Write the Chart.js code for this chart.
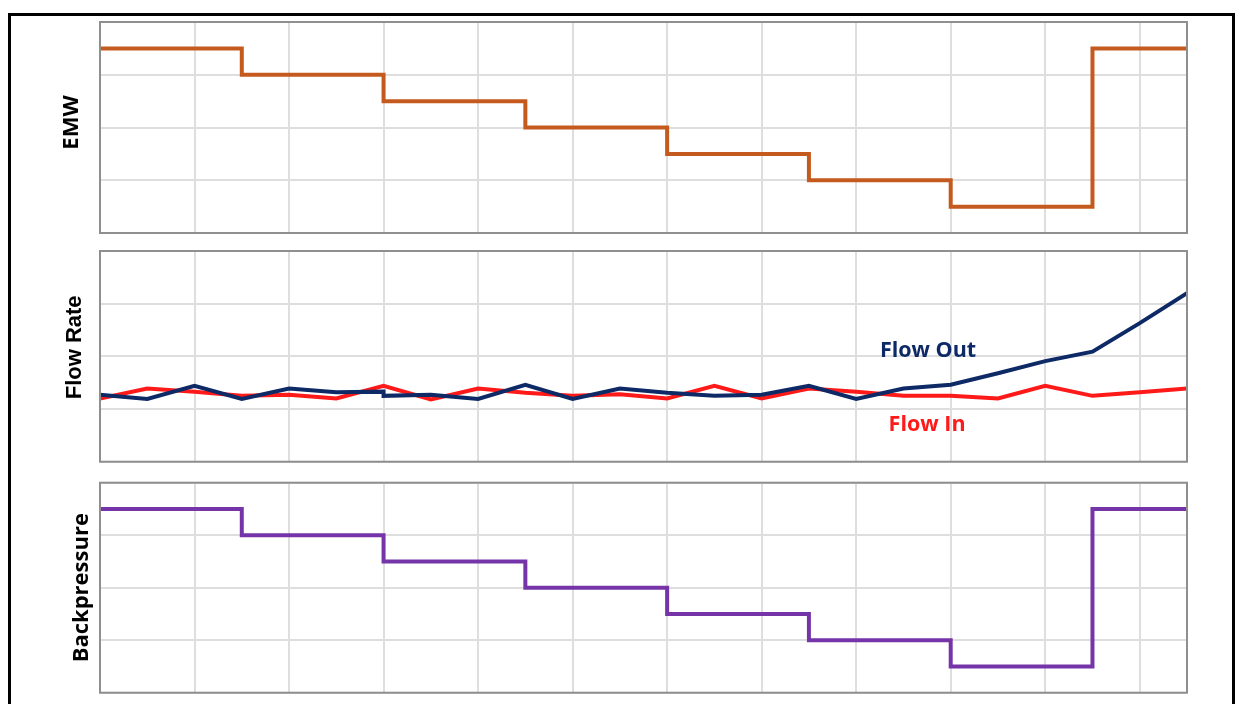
<!DOCTYPE html>
<html>
<head>
<meta charset="utf-8">
<script src="https://cdn.jsdelivr.net/npm/chart.js@4/dist/chart.umd.min.js"></script>
<style>
  html, body { margin: 0; padding: 0; background: #fff; }
  body { width: 1239px; height: 704px; position: relative; overflow: hidden; }
  .frame { position: absolute; left: 8px; top: 13px; width: 1227px; height: 720px;
           border: 3px solid #000; border-bottom: none; box-sizing: border-box; }
  canvas { position: absolute; left: 0; }
</style>
</head>
<body>
<div class="frame"></div>
<canvas id="emw" width="1239" height="240" style="top:0"></canvas>
<canvas id="flow" width="1239" height="230" style="top:240px"></canvas>
<canvas id="bp" width="1239" height="234" style="top:470px"></canvas>
<script>
// Time axis (shared by all three panels)
const timeMin = 0;
const timeMax = 11.5;

// Step changes in equivalent mud weight and surface backpressure
const stepTimes = [0, 1.5, 3, 4.5, 6, 7.5, 9, 10.5, 11.5];
const emwLevels = [3.5, 3.0, 2.5, 2.0, 1.5, 1.0, 0.5, 3.5, 3.5];
const backpressureLevels = [3.5, 3.0, 2.5, 2.0, 1.5, 1.0, 0.5, 3.5, 3.5];

// Flow readings
const flowTimes = [0, 0.5, 1, 1.5, 2, 2.5, 3, 3.5, 4, 4.5, 5, 5.5,
                   6, 6.5, 7, 7.5, 8, 8.5, 9, 9.5, 10, 10.5, 11, 11.5];
const flowIn = [1.20, 1.39, 1.33, 1.25, 1.27, 1.20, 1.44, 1.18, 1.39, 1.31, 1.25, 1.28,
                1.20, 1.44, 1.20, 1.39, 1.33, 1.25, 1.25, 1.20, 1.44, 1.25, 1.32, 1.39];
const flowOutTimes = [0, 0.5, 1, 1.5, 2, 2.5, 3, 3, 3.5, 4, 4.5, 5, 5.5,
                      6, 6.5, 7, 7.5, 8, 8.5, 9, 9.5, 10, 10.5, 11, 11.5];
const flowOut = [1.27, 1.19, 1.44, 1.19, 1.39, 1.32, 1.33, 1.25, 1.27, 1.19, 1.46, 1.19, 1.39,
                 1.31, 1.25, 1.27, 1.44, 1.19, 1.39, 1.46, 1.68, 1.91, 2.09, 2.63, 3.20];

const GRID = '#dedede';
const FRAME = '#8f8f8f';
const PLOT_LEFT = 100;
const PLOT_RIGHT_PAD = 52;

const toPoints = (xs, ys) => xs.map((x, i) => ({ x: x, y: ys[i] }));

// Grey box around each plot area
const plotFrame = {
  id: 'plotFrame',
  afterDraw(chart) {
    const a = chart.chartArea, ctx = chart.ctx;
    ctx.save();
    ctx.strokeStyle = FRAME;
    ctx.lineWidth = 2;
    ctx.strokeRect(a.left, a.top, a.right - a.left, a.bottom - a.top);
    ctx.restore();
  }
};

// Rotated axis caption at the left of each plot
const axisCaption = {
  id: 'axisCaption',
  afterDraw(chart, args, opts) {
    if (!opts.text) return;
    const a = chart.chartArea, ctx = chart.ctx;
    ctx.save();
    ctx.translate(opts.x, (a.top + a.bottom) / 2 + (opts.dy || 0));
    ctx.rotate(-Math.PI / 2);
    ctx.textAlign = 'center';
    ctx.textBaseline = 'middle';
    ctx.font = opts.font;
    ctx.fillStyle = '#000';
    ctx.fillText(opts.text, 0, 0);
    ctx.restore();
  }
};

// Text labels placed in data coordinates
const seriesLabels = {
  id: 'seriesLabels',
  afterDatasetsDraw(chart, args, opts) {
    if (!opts.items) return;
    const ctx = chart.ctx;
    ctx.save();
    ctx.textAlign = 'center';
    ctx.textBaseline = 'middle';
    ctx.font = 'bold 21.5px "Open Sans", sans-serif';
    opts.items.forEach(it => {
      ctx.fillStyle = it.color;
      ctx.fillText(it.text, chart.scales.x.getPixelForValue(it.x), chart.scales.y.getPixelForValue(it.y));
    });
    ctx.restore();
  }
};

function panel(id, datasets, caption, padTop, padBottom, labels) {
  return new Chart(document.getElementById(id), {
    type: 'line',
    data: { datasets: datasets },
    options: {
      responsive: false,
      animation: false,
      events: [],
      layout: { padding: { top: padTop, bottom: padBottom, left: 0, right: PLOT_RIGHT_PAD } },
      plugins: {
        legend: { display: false },
        tooltip: { enabled: false },
        axisCaption: caption,
        seriesLabels: { items: labels || [] }
      },
      scales: {
        x: {
          type: 'linear', min: timeMin, max: timeMax,
          ticks: { display: false, stepSize: 1 },
          grid: { color: GRID, lineWidth: 2, drawTicks: false },
          border: { display: false },
          afterFit(s) { s.height = 0; }
        },
        y: {
          min: 0, max: 4,
          ticks: { display: false, stepSize: 1 },
          grid: { color: GRID, lineWidth: 2, drawTicks: false },
          border: { display: false },
          afterFit(s) { s.width = PLOT_LEFT; }
        }
      }
    },
    plugins: [plotFrame, axisCaption, seriesLabels]
  });
}

const stepStyle = color => ({
  borderColor: color, borderWidth: 4, pointRadius: 0, stepped: 'before',
  borderJoinStyle: 'miter', borderCapStyle: 'butt', fill: false
});
const flowStyle = color => ({
  borderColor: color, borderWidth: 4, pointRadius: 0, tension: 0,
  borderJoinStyle: 'miter', fill: false
});

panel('emw',
  [Object.assign({ label: 'EMW', data: toPoints(stepTimes, emwLevels) }, stepStyle('#C55A1E'))],
  { text: 'EMW', x: 72, dy: -5, font: 'bold 22px "Open Sans", sans-serif' }, 22, 7);

panel('flow',
  [
    Object.assign({ label: 'Flow Out', data: toPoints(flowOutTimes, flowOut) }, flowStyle('#0D2A66')),
    Object.assign({ label: 'Flow In', data: toPoints(flowTimes, flowIn) }, flowStyle('#FF1A1A'))
  ],
  { text: 'Flow Rate', x: 75, dy: -9, font: 'bold 22px "Liberation Sans", Arial, sans-serif' }, 11, 8.3,
  [
    { text: 'Flow Out', x: 8.76, y: 2.11, color: '#0D2A66' },
    { text: 'Flow In', x: 8.75, y: 0.70, color: '#FF1A1A' }
  ]);

panel('bp',
  [Object.assign({ label: 'Backpressure', data: toPoints(stepTimes, backpressureLevels) }, stepStyle('#7535A8'))],
  { text: 'Backpressure', x: 82, dy: 0, font: 'bold 22px "Open Sans", sans-serif' }, 12.7, 11.3);
</script>
</body>
</html>
